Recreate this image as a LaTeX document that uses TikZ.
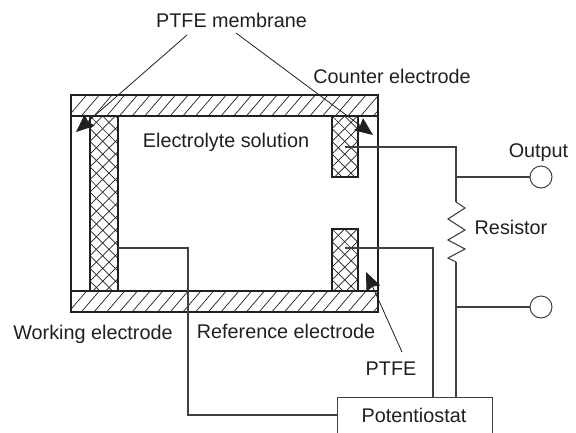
\documentclass[tikz,border=0pt]{standalone}
\usepackage{fontspec}
\setmainfont{Liberation Sans}
\usetikzlibrary{arrows.meta,calc}
\definecolor{ink}{HTML}{231F20}
\definecolor{wire}{HTML}{404040}
\tikzset{
  lbl/.style={inner sep=0pt,anchor=base,text=ink,font=\fontsize{19.8}{21}\selectfont},
  wall/.style={draw=ink,line width=1.5pt},
  hatchln/.style={draw=ink,line width=0.7pt},
  wireln/.style={draw=wire,line width=1.1pt,line join=miter},
  ptr/.style={draw=ink,line width=0.8pt,-{Stealth[length=18pt,width=15pt,inset=2pt]}},
  term/.style={circle,draw=wire,line width=1pt,minimum size=22pt,inner sep=0pt,fill=white},
}
\newcommand{\hatchband}[4]{% x0 y0 x1 y1
  \begin{scope}
    \clip (#1,#2) rectangle (#3,#4);
    \foreach \k in {0,...,26} {
      \draw[hatchln] ({#1-2.4+12.7*\k},#4) -- ++(24,-28);
    }
  \end{scope}
  \draw[wall] (#1,#2) rectangle (#3,#4);
}
\newcommand{\crossfill}[4]{%
  \begin{scope}
    \clip (#1,#2) rectangle (#3,#4);
    \foreach \k in {-16,...,20} {
      \draw[hatchln] ({#1+12.7*\k},#2) -- ++(200,200);
      \draw[hatchln] ({#1+12.7*\k},#2) -- ++(-200,200);
    }
  \end{scope}
  \draw[wall] (#1,#2) rectangle (#3,#4);
}
\begin{document}
\begin{tikzpicture}[x=1pt,y=-1pt]
\useasboundingbox[fill=white] (0,0) rectangle (576,432);
% cell walls
\draw[wall] (71,116) -- (71,291);
\draw[wall] (378,116) -- (378,291);
\hatchband{71}{95}{378}{116}
\hatchband{71}{291}{378}{312}
% electrodes
\crossfill{90}{116}{118}{291}
\crossfill{332}{116}{358}{177}
\crossfill{332}{229}{358}{291}
\coordinate (we) at (118,248);
\coordinate (ce) at (345,147);
\coordinate (re) at (345,248);
% potentiostat
\node[draw=wire,line width=1pt,minimum width=155pt,minimum height=36pt,inner sep=0pt,anchor=north west,fill=white] (pot) at (337,397) {};
\node[lbl] (pottxt) at (414,422) {Potentiostat};
\node[term] (out1) at (541,177) {};
\node[term] (out2) at (541,307) {};
\coordinate (rtop) at (456,202);
\coordinate (rbot) at (456,262);
% wires
\draw[wireln] (ce) -| (rtop);
\draw[wireln] (rtop) -- (465,208) -- (448,219) -- (465,230) -- (448,240) -- (465,249) -- (448,258) -- (rbot);
\draw[wireln] (rbot) -- (456,397);
\draw[wireln] (456,177) -- (out1);
\draw[wireln] (456,307) -- (out2);
\draw[wireln] (re) -| (433,397);
\draw[wireln] (we) -| (188,415) -- (337,415);
% labels
\node[lbl] (mem) at (231.5,27) {PTFE membrane};
\node[lbl] (counter) at (392,83) {Counter electrode};
\node[lbl] (sol) at (226,147) {Electrolyte solution};
\node[lbl] (output) at (538.5,157) {Output};
\node[lbl] (res) at (511,234) {Resistor};
\node[lbl] (wlab) at (93,339) {Working electrode};
\node[lbl] (rlab) at (286,338) {Reference electrode};
\node[lbl] (ptfe) at (391,375) {PTFE};
% pointers
\draw[ptr] (187,35) -- (76,132);
\draw[ptr] (236,33) -- (373,135);
\draw[ptr] (402,352) -- (366,272);
\end{tikzpicture}
\end{document}
